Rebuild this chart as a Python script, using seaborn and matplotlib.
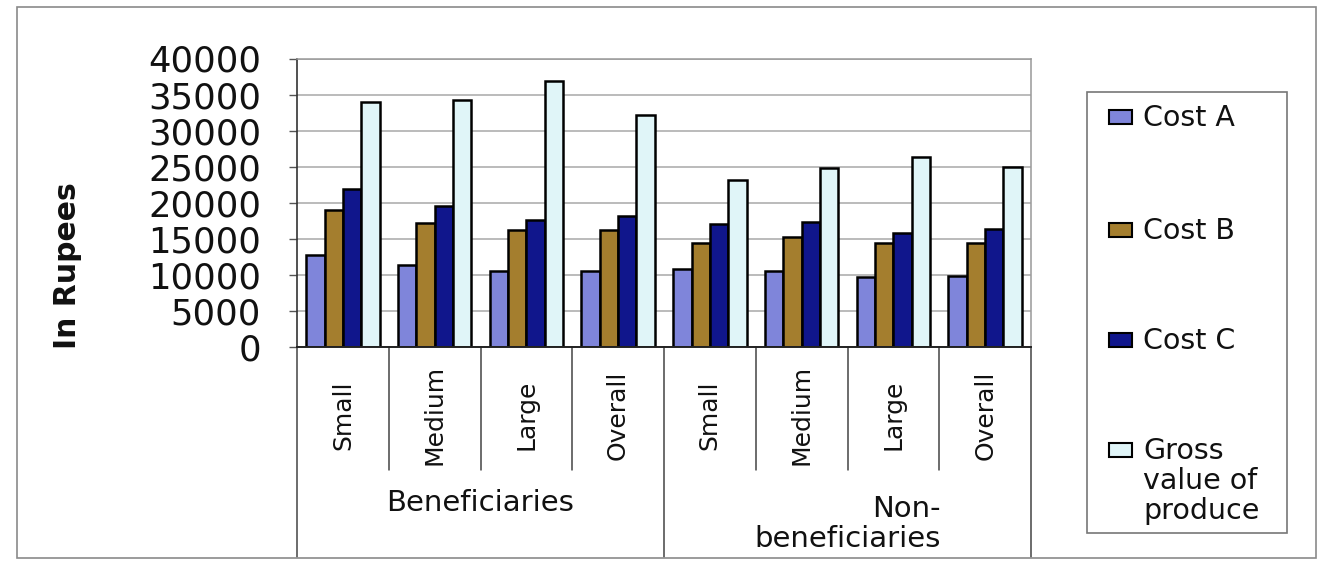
import numpy as np
import pandas as pd
import matplotlib
matplotlib.use("Agg")
import matplotlib.pyplot as plt
import matplotlib.transforms as mtransforms
from matplotlib.patches import Rectangle
import seaborn as sns

# ---- data -----------------------------------------------------------------
groups = ["Beneficiaries", "Non-\nbeneficiaries"]
farm_sizes = ["Small", "Medium", "Large", "Overall"]
series_names = ["Cost A", "Cost B", "Cost C", "Gross\nvalue of\nproduce"]

cost_a = [12700, 11300, 10600, 10600, 10800, 10600, 9700, 9800]
cost_b = [19000, 17200, 16200, 16200, 14400, 15200, 14400, 14400]
cost_c = [21900, 19600, 17600, 18100, 17100, 17400, 15800, 16300]
gross_value = [33900, 34200, 36900, 32100, 23100, 24800, 26400, 24900]

y_ticks = [0, 5000, 10000, 15000, 20000, 25000, 30000, 35000, 40000]
y_label = "In Rupees"

colors = ["#7f85da", "#a47e2e", "#10168c", "#e0f5f8"]

# ---- long-form table ------------------------------------------------------
slots = [f"{g}|{s}" for g in groups for s in farm_sizes]
rows = []
for name, vals in zip(series_names, [cost_a, cost_b, cost_c, gross_value]):
    for slot, v in zip(slots, vals):
        rows.append({"slot": slot, "series": name, "value": v})
df = pd.DataFrame(rows)

# ---- figure ---------------------------------------------------------------
sns.set_theme(style="white")
plt.rcParams["font.family"] = ["DejaVu Sans"]

W, H = 1330, 565
fig = plt.figure(figsize=(W / 100, H / 100), dpi=100)
fig.patch.set_facecolor("white")

ax_left, ax_right, ax_top, ax_bot = 297, 1031, 58.5, 347
ax = fig.add_axes([ax_left / W, 1 - ax_bot / H,
                   (ax_right - ax_left) / W, (ax_bot - ax_top) / H])

sns.barplot(data=df, x="slot", y="value", hue="series", order=slots,
            hue_order=series_names, palette=colors, width=0.8,
            edgecolor="black", linewidth=1.8, saturation=1,
            legend=False, ax=ax)

ax.set_ylim(0, 40000)
ax.set_xlim(-0.5, len(slots) - 0.5)
ax.set_yticks(y_ticks)
ax.set_yticklabels([str(t) for t in y_ticks], fontsize=25.5, color="#111111")
ax.tick_params(axis="y", which="major", direction="out", length=6,
               width=1, color="#555555", pad=20, left=True)
ax.set_xticks([])
ax.set_xlabel("")
ax.set_ylabel("")
ax.yaxis.grid(True, color="#a8a8a8", linewidth=1.1)
ax.set_axisbelow(True)
for side in ["top", "right"]:
    ax.spines[side].set_color("#999999")
    ax.spines[side].set_linewidth(1.1)
ax.spines["left"].set_color("#333333")
ax.spines["bottom"].set_color("#222222")
ax.spines["left"].set_linewidth(1.2)
ax.spines["bottom"].set_linewidth(1.4)

# ---- multi-level category axis ------------------------------------------
trans = mtransforms.blended_transform_factory(ax.transData, ax.transAxes)
ax_h = ax_bot - ax_top


def frac(py):
    return (ax_bot - py) / ax_h


inner_bottom = frac(470)
outer_bottom = frac(557)
n_sizes = len(farm_sizes)
for i in range(len(slots) + 1):
    xb = i - 0.5
    low = outer_bottom if i % n_sizes == 0 else inner_bottom
    ax.plot([xb, xb], [0, low], transform=trans, color="#444444",
            linewidth=1.1, clip_on=False)

for i, slot in enumerate(slots):
    ax.text(i, frac(415), slot.split("|")[1], transform=trans, rotation=90,
            ha="center", va="center", fontsize=18, color="#111111")

for gi, g in enumerate(groups):
    xc = gi * n_sizes + (n_sizes - 1) / 2
    yc = frac(503) if "\n" not in g else frac(524)
    ax.text(xc, yc, g, transform=trans, ha="center", va="center",
            multialignment="right", fontsize=21, linespacing=1.1,
            color="#111111")

# ---- axis title -----------------------------------------------------------
fig.text(68 / W, 1 - 266 / H, y_label, rotation=90, ha="center", va="center",
         fontsize=21.5, fontweight="bold", color="#111111")

# ---- legend box -----------------------------------------------------------
lx0, lx1, ly0, ly1 = 1087, 1287, 92, 533
fig.patches.append(Rectangle((lx0 / W, 1 - ly1 / H), (lx1 - lx0) / W,
                             (ly1 - ly0) / H, transform=fig.transFigure,
                             facecolor="white", edgecolor="#777777",
                             linewidth=1.2))
entry_y = [117, 230, 340, 450]
for name, col, yy in zip(series_names, colors, entry_y):
    fig.patches.append(Rectangle((1109 / W, 1 - (yy + 7) / H), 23 / W, 14 / H,
                                 transform=fig.transFigure, facecolor=col,
                                 edgecolor="black", linewidth=1.5))
    fig.text(1143 / W, 1 - (yy - 13) / H, name, ha="left", va="top",
             fontsize=20.5, linespacing=1.08, color="#111111")

# ---- outer chart frame ---------------------------------------------------
fig.patches.append(Rectangle((17 / W, 1 - 558 / H), (1316 - 17) / W,
                             (558 - 7) / H, transform=fig.transFigure,
                             facecolor="none", edgecolor="#8a8a8a",
                             linewidth=1.2))

fig.savefig("out.png", dpi=100, facecolor="white")
